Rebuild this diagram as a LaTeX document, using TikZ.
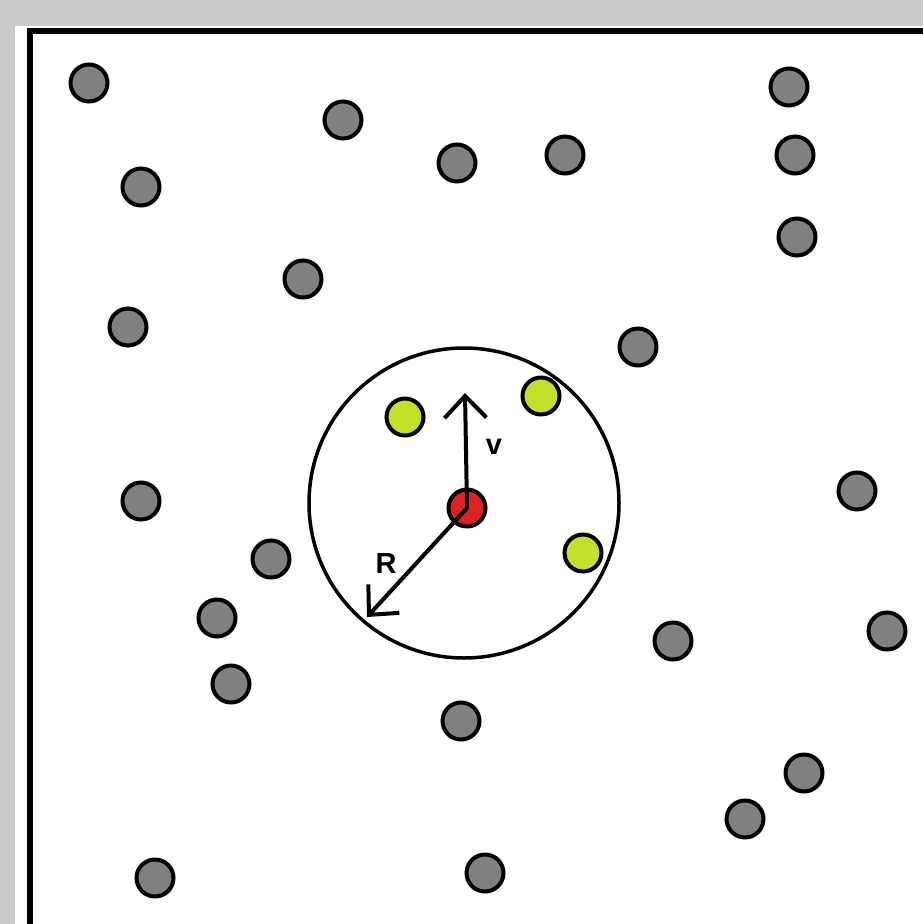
\documentclass[tikz,border=0pt]{standalone}
\usepackage{fontspec}
\setmainfont{Liberation Sans}
\usetikzlibrary{arrows.meta}
\definecolor{margin}{HTML}{C8C9C8}
\definecolor{dotgray}{HTML}{808080}
\definecolor{neargreen}{HTML}{C2E22A}
\definecolor{egored}{HTML}{DD2222}

\begin{document}
\begin{tikzpicture}[
  x=1pt, y=-1pt,
  font=\fontsize{29}{32}\selectfont\bfseries,
  dot/.style={circle, draw, line width=4pt, minimum size=37pt, inner sep=0pt},
  other/.style={dot, fill=dotgray},
  near/.style={dot, fill=neargreen},
  ego/.style={dot, fill=egored},
  vec/.style={-{Straight Barb[length=22pt, width=42pt]}, line width=4pt}
]
  \useasboundingbox (0,0) rectangle (923,924);
  \fill[margin] (0,0) rectangle (923,924);
  \fill[white] (15,26) rectangle (923,924);
  \draw[line width=6pt] (30,924) -- (30,31) -- (923,31);

  % agents outside the neighbourhood
  \node[other] (a1) at (89,83) {};
  \node[other] (a2) at (343,120) {};
  \node[other] (a3) at (457,163) {};
  \node[other] (a4) at (565,155) {};
  \node[other] (a5) at (789,87) {};
  \node[other] (a6) at (795,155) {};
  \node[other] (a7) at (797,237) {};
  \node[other] (a8) at (141,187) {};
  \node[other] (a9) at (303,279) {};
  \node[other] (a10) at (128,327) {};
  \node[other] (a11) at (638,347) {};
  \node[other] (a12) at (141,501) {};
  \node[other] (a13) at (857,491) {};
  \node[other] (a14) at (271,559) {};
  \node[other] (a15) at (217,618) {};
  \node[other] (a16) at (231,684) {};
  \node[other] (a17) at (673,641) {};
  \node[other] (a18) at (887,631) {};
  \node[other] (a19) at (461,721) {};
  \node[other] (a20) at (804,773) {};
  \node[other] (a21) at (745,819) {};
  \node[other] (a22) at (155,878) {};
  \node[other] (a23) at (485,873) {};

  % neighbourhood of radius R
  \node[circle, draw, line width=3.5pt, minimum size=310pt, inner sep=0pt] (range) at (464,503) {};
  \node[near] (n1) at (405,417) {};
  \node[near] (n2) at (541,396) {};
  \node[near] (n3) at (583,553) {};

  % focal agent
  \node[ego] (self) at (467,508) {};
  \coordinate (vtip) at (465,393);
  \coordinate (rtip) at (367,617);
  \draw[vec] (self.center) -- (vtip);
  \draw[vec] (self.center) -- (rtip);
  \node (vlabel) at (494,447) {v};
  \node (rlabel) at (386,564) {R};
\end{tikzpicture}
\end{document}
